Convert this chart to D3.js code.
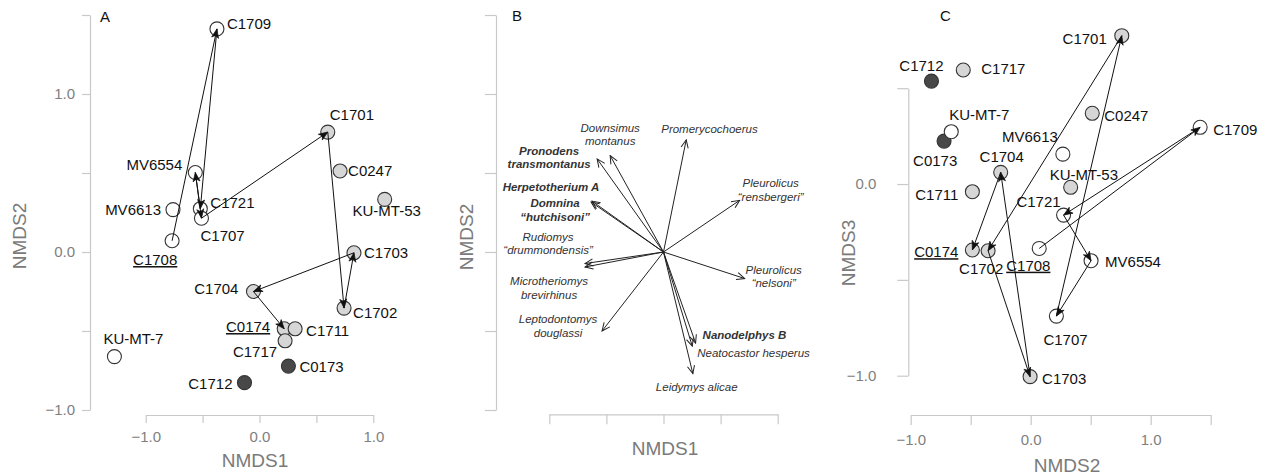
<!DOCTYPE html>
<html>
<head>
<meta charset="utf-8">
<script src="https://cdn.jsdelivr.net/npm/d3@7/dist/d3.min.js"></script>
<style>
  html, body { margin: 0; padding: 0; background: #fff; }
  svg { display: block; }
  text { font-family: "Liberation Sans", Arial, sans-serif; }
</style>
</head>
<body>
<svg id="chart" width="1267" height="476"></svg>
<script>
// ---------------- DATA ----------------
const sites = ["C1709","MV6554","MV6613","C1721","C1707","C1701","C0247","KU-MT-53","C1708",
               "C1703","C1704","C1702","C0174","C1711","C1717","C0173","C1712","KU-MT-7"];
const nmds1 = [-0.374,-0.564,-0.760,-0.520,-0.510, 0.600, 0.708, 1.100,-0.768,
                0.830,-0.053, 0.743, 0.217, 0.313, 0.225, 0.254,-0.132,-1.275];
const nmds2 = [ 1.412, 0.503, 0.268, 0.274, 0.214, 0.759, 0.513, 0.333, 0.071,
               -0.005,-0.250,-0.355,-0.486,-0.486,-0.562,-0.722,-0.827,-0.662];
const nmds3 = [ 0.296,-0.400, 0.156,-0.162,-0.689, 0.774, 0.369,-0.017,-0.336,
               -1.005, 0.061,-0.348,-0.344,-0.040, 0.595, 0.224, 0.537, 0.273];
const siteGroup = ["open","open","open","open","open","gray","gray","gray","open",
                   "gray","gray","gray","gray","gray","gray","dark","dark","open"];
const underlinedSites = ["C1708","C0174"];
const sequence = ["C1708","C1709","C1721","MV6554","C1707","C1701","C1702","C1703","C1704","C0174"];

const species = ["Promerycochoerus","Downsimus|montanus","Pronodens|transmontanus","Herpetotherium A",
                 "Domnina|\u201chutchisoni\u201d","Pleurolicus|\u201crensbergeri\u201d","Rudiomys|\u201cdrummondensis\u201d",
                 "Microtheriomys|brevirhinus","Pleurolicus|\u201cnelsoni\u201d","Leptodontomys|douglassi",
                 "Nanodelphys B","Neatocastor hesperus","Leidymys alicae"];
const loadX = [ 0.199,-0.467,-0.581,-0.626,-0.634, 0.667,-0.687,-0.687, 0.711,-0.538, 0.281, 0.252, 0.257];
const loadY = [ 0.710, 0.610, 0.589, 0.322, 0.316, 0.327,-0.073,-0.095,-0.168,-0.500,-0.576,-0.596,-0.770];
const boldSpecies = ["Pronodens|transmontanus","Herpetotherium A","Domnina|\u201chutchisoni\u201d","Nanodelphys B"];

const ticksA_x = [-1,-0.5,0,0.5,1];
const ticksA_y = [-1,-0.5,0,0.5,1,1.5];
const ticksC_x = [-1,-0.5,0,0.5,1,1.5];
const ticksC_y = [-1,-0.5,0,0.5];
const labeledTicks = [-1,0,1];

// ---------------- STYLE / LAYOUT ----------------
const fills = {open:"#ffffff", gray:"#d6d6d6", dark:"#484848"};
const axisColor = "#c9c9c9", tickTextColor = "#808080", titleColor = "#7a7a7a";

// label offsets (px) per site for panels A and C: [dx, dy, anchor]
const labA = {
  "C1709":[10,-5,"start"], "MV6554":[-13,-8,"end"], "MV6613":[-12,0,"end"], "C1721":[10,-6,"start"],
  "C1707":[-1,18,"start"], "C1701":[2,-17,"start"], "C0247":[8,0,"start"], "KU-MT-53":[2,11,"middle"],
  "C1708":[-39,19,"start"], "C1703":[10,0,"start"], "C1704":[-15,-3,"end"], "C1702":[9,5,"start"],
  "C0174":[-14,-2,"end"], "C1711":[11,2,"start"], "C1717":[-8,11,"end"], "C0173":[11,1,"start"],
  "C1712":[-12,1,"end"], "KU-MT-7":[-11,-18,"start"]
};
const labC = {
  "C1701":[-15,3,"end"], "C1712":[-10,-15,"middle"], "C1717":[18,-1,"start"], "KU-MT-7":[-2,-17,"start"],
  "C0173":[-31,20,"start"], "C0247":[12,2,"start"], "C1709":[13,2,"start"], "MV6613":[-5,-17,"end"],
  "C1704":[1,-16,"middle"], "KU-MT-53":[-21,-13,"start"], "C1711":[-14,3,"end"], "C1721":[-3,-13,"end"],
  "C0174":[-14,2,"end"], "C1702":[-29,18,"start"], "C1708":[-33,17,"start"], "MV6554":[14,1,"start"],
  "C1707":[-13,24,"start"], "C1703":[12,2,"start"]
};
// panel B label placement relative to arrow tip: [dx, dy of first line, anchor]
const labB = {
  "Promerycochoerus":[-25,-11,"start"], "Downsimus|montanus":[0,-28,"middle"],
  "Pronodens|transmontanus":[-48,-8,"middle"], "Herpetotherium A":[-41,-14,"middle"],
  "Domnina|\u201chutchisoni\u201d":[-36,1,"middle"], "Pleurolicus|\u201crensbergeri\u201d":[31,-17,"middle"],
  "Rudiomys|\u201cdrummondensis\u201d":[-37,-27,"middle"], "Microtheriomys|brevirhinus":[-36,14,"middle"],
  "Pleurolicus|\u201cnelsoni\u201d":[29,-9,"middle"], "Leptodontomys|douglassi":[-44,-12,"middle"],
  "Nanodelphys B":[7,-8,"start"], "Neatocastor hesperus":[5,7,"start"], "Leidymys alicae":[-37,13,"start"]
};

const svg = d3.select("#chart");
const defs = svg.append("defs");
defs.append("marker").attr("id","headAC").attr("markerUnits","userSpaceOnUse")
  .attr("viewBox","-10 -5 11 10").attr("refX",0).attr("refY",0)
  .attr("markerWidth",11).attr("markerHeight",10).attr("orient","auto")
  .append("path").attr("d","M0,0 L-9,-3.5 L-6.5,0 L-9,3.5 Z").attr("fill","#111").attr("stroke","#111").attr("stroke-width",0.7);
defs.append("marker").attr("id","headB").attr("markerUnits","userSpaceOnUse")
  .attr("viewBox","-10 -5 11 10").attr("refX",0).attr("refY",0)
  .attr("markerWidth",11).attr("markerHeight",10).attr("orient","auto")
  .append("path").attr("d","M-8,-3.6 L0,0 L-8,3.6").attr("fill","none").attr("stroke","#222").attr("stroke-width",1);

const fmt = d => labeledTicks.some(t => Math.abs(t-d) < 1e-9) ? d3.format(".1f")(d) : "";

function styleAxis(g) {
  g.select(".domain").attr("stroke", axisColor).attr("stroke-width",1.2);
  g.selectAll(".tick line").attr("stroke", axisColor).attr("stroke-width",1.2);
  g.selectAll(".tick text").attr("fill", tickTextColor).style("font-size","15px")
   .style("font-family","'Liberation Sans', Arial, sans-serif");
}

function axisTitle(x, y, text, rotate) {
  const t = svg.append("text").attr("fill", titleColor).style("font-size","19px")
    .attr("text-anchor","middle").attr("dy","0.35em").text(text);
  if (rotate) t.attr("transform", `translate(${x},${y}) rotate(-90)`);
  else t.attr("x", x).attr("y", y);
}

function panelLetter(x, y, text) {
  svg.append("text").attr("x",x).attr("y",y).attr("dy","0.35em").attr("fill","#111")
    .style("font-size","15px").text(text);
}

// ---------------- PANEL A / C scatter ----------------
function scatterPanel(opts) {
  const {xs, ys, xv, yv, labels, xTicks, yTicks, xAxisY, yAxisX, xTickSize, yTickSize, xPad, yPad} = opts;
  const gx = svg.append("g").attr("transform",`translate(0,${xAxisY})`)
    .call(d3.axisBottom(xs).tickValues(xTicks).tickFormat(fmt).tickSize(xTickSize).tickSizeOuter(0).tickPadding(xPad));
  styleAxis(gx);
  const gy = svg.append("g").attr("transform",`translate(${yAxisX},0)`)
    .call(d3.axisLeft(ys).tickValues(yTicks).tickFormat(fmt).tickSize(yTickSize).tickSizeOuter(0).tickPadding(yPad));
  styleAxis(gy);

  const pts = sites.map((s,i) => ({name:s, x:xs(xv[i]), y:ys(yv[i]), g:siteGroup[i]}));
  const byName = Object.fromEntries(pts.map(p => [p.name, p]));
  const g = svg.append("g");
  g.selectAll("circle").data(pts).join("circle")
    .attr("cx", d=>d.x).attr("cy", d=>d.y).attr("r",7)
    .attr("fill", d=>fills[d.g]).attr("stroke","#333").attr("stroke-width",1.1);

  const segs = d3.pairs(sequence).map(([a,b]) => [byName[a], byName[b]]);
  g.selectAll("line.seq").data(segs).join("line").attr("class","seq")
    .attr("x1", d=>d[0].x).attr("y1", d=>d[0].y).attr("x2", d=>d[1].x).attr("y2", d=>d[1].y)
    .attr("stroke","#111").attr("stroke-width",1).attr("marker-end","url(#headAC)");

  g.selectAll("text.lab").data(pts).join("text").attr("class","lab")
    .attr("x", d=>d.x + labels[d.name][0]).attr("y", d=>d.y + labels[d.name][1])
    .attr("dy","0.35em").attr("text-anchor", d=>labels[d.name][2])
    .attr("fill","#111").style("font-size","15px")
    .attr("text-decoration", d=> underlinedSites.includes(d.name) ? "underline" : null)
    .text(d=>d.name);
}

// Panel A
const xA = d3.scaleLinear().domain([-1,1]).range([145.7,373.3]);
const yA = d3.scaleLinear().domain([-1,1.5]).range([410,15]);
scatterPanel({xs:xA, ys:yA, xv:nmds1, yv:nmds2, labels:labA, xTicks:ticksA_x, yTicks:ticksA_y,
  xAxisY:415, yAxisX:90, xTickSize:8, yTickSize:8, xPad:8, yPad:7});
axisTitle(255, 460, "NMDS1", false);
axisTitle(19, 236, "NMDS2", true);
panelLetter(100, 17, "A");

// Panel C
const xC = d3.scaleLinear().domain([-1,1.5]).range([910.7,1210.7]);
const yC = d3.scaleLinear().domain([-1,0.5]).range([375.7,88.2]);
scatterPanel({xs:xC, ys:yC, xv:nmds2, yv:nmds3, labels:labC, xTicks:ticksC_x, yTicks:ticksC_y,
  xAxisY:415, yAxisX:908.3, xTickSize:10, yTickSize:11, xPad:9, yPad:21});
axisTitle(1067, 465, "NMDS2", false);
axisTitle(848, 253, "NMDS3", true);
panelLetter(940, 16, "C");

// ---------------- PANEL B vectors ----------------
const xB = d3.scaleLinear().domain([-1,1]).range([549.3,777.7]);
const yB = yA;
const gxB = svg.append("g").attr("transform","translate(0,414.3)")
  .call(d3.axisBottom(xB).tickValues(ticksA_x).tickFormat("").tickSize(10).tickSizeOuter(0));
styleAxis(gxB);
const gyB = svg.append("g").attr("transform","translate(496,0)")
  .call(d3.axisLeft(yB).tickValues(ticksA_y).tickFormat("").tickSize(11).tickSizeOuter(0));
styleAxis(gyB);
axisTitle(665, 448, "NMDS1", false);
axisTitle(466, 237, "NMDS2", true);
panelLetter(512, 16, "B");

const vecs = species.map((s,i) => ({name:s, x:xB(loadX[i]), y:yB(loadY[i])}));
const gB = svg.append("g");
gB.selectAll("line").data(vecs).join("line")
  .attr("x1", xB(0)).attr("y1", yB(0)).attr("x2", d=>d.x).attr("y2", d=>d.y)
  .attr("stroke","#222").attr("stroke-width",1).attr("marker-end","url(#headB)");
vecs.forEach(v => {
  const [dx, dy, anchor] = labB[v.name];
  const lines = v.name.split("|");
  const t = gB.append("text").attr("text-anchor", anchor).attr("fill","#333")
    .style("font-size","11.5px").style("font-style","italic")
    .style("font-weight", boldSpecies.includes(v.name) ? "bold" : "normal");
  lines.forEach((ln, k) => {
    t.append("tspan").attr("x", v.x + dx).attr("y", v.y + dy + k*13.5).attr("dy","0.35em").text(ln);
  });
});
</script>
</body>
</html>
